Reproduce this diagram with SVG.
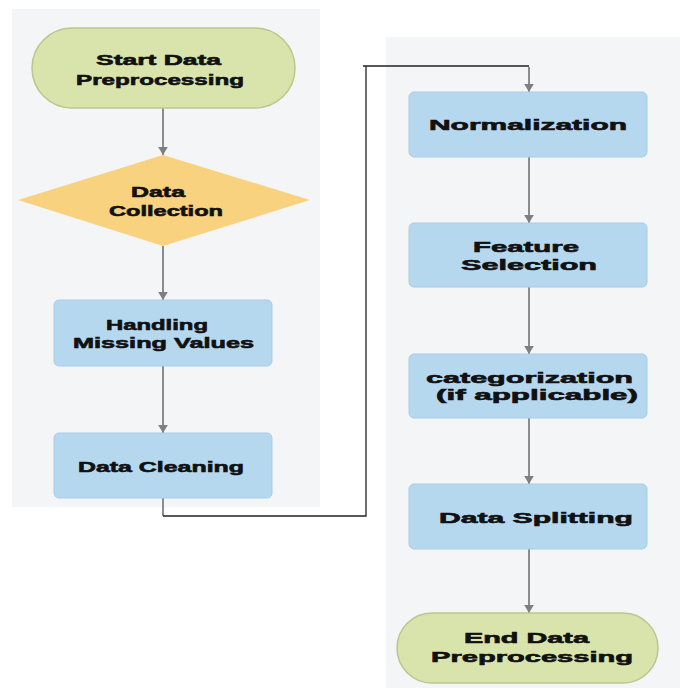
<svg xmlns="http://www.w3.org/2000/svg" width="680" height="688" viewBox="0 0 680 688">
<style>
.panel{fill:#f4f5f7}
.box{fill:#b5d8ef;stroke:#a9cde6;stroke-width:1}
.term{fill:#d9e4ad;stroke:#b9c78e;stroke-width:1.5}
.dec{fill:#f8d27e}
.lbl{font-family:"Liberation Sans",Arial,sans-serif;font-weight:bold;font-size:15px;fill:#111;stroke:#111;stroke-width:0.6}
.flow{stroke:#8c8c8c;stroke-width:2;fill:none}
.link{stroke:#222;stroke-width:1.3;fill:none}
</style>
<defs>
<marker id="ah" viewBox="0 0 10 12" refX="10" refY="6" markerWidth="8" markerHeight="12" markerUnits="userSpaceOnUse" orient="auto">
<path d="M0,0 L10,6 L0,12 Z" fill="#7f7f7f"/>
</marker>
</defs>
<rect class="panel" x="12" y="9" width="308" height="498"/>
<rect class="panel" x="386" y="37" width="294" height="651"/>
<g id="connectors">
<line class="flow" x1="163" y1="108" x2="163" y2="155" marker-end="url(#ah)"/>
<line class="flow" x1="163" y1="246" x2="163" y2="300" marker-end="url(#ah)"/>
<line class="flow" x1="163" y1="366" x2="163" y2="433" marker-end="url(#ah)"/>
<line class="flow" x1="163" y1="498" x2="163" y2="516"/>
<polyline class="link" points="163,516 366,516 366,66 363,66 529,66"/>
<line class="flow" x1="529" y1="67" x2="529" y2="92" marker-end="url(#ah)"/>
<line class="flow" x1="529" y1="157" x2="529" y2="223" marker-end="url(#ah)"/>
<line class="flow" x1="529" y1="287" x2="529" y2="354" marker-end="url(#ah)"/>
<line class="flow" x1="529" y1="418" x2="529" y2="484" marker-end="url(#ah)"/>
<line class="flow" x1="529" y1="549" x2="529" y2="613" marker-end="url(#ah)"/>
</g>
<g id="start">
<rect class="term" x="32" y="28" width="263" height="80" rx="40" ry="40"/>
<text class="lbl" x="96" y="65" textLength="125" lengthAdjust="spacingAndGlyphs">Start Data</text>
<text class="lbl" x="76" y="85" textLength="168" lengthAdjust="spacingAndGlyphs">Preprocessing</text>
</g>
<g id="collection">
<polygon class="dec" points="163,155 310,200 163,246 18,200"/>
<text class="lbl" x="131" y="197" textLength="54" lengthAdjust="spacingAndGlyphs">Data</text>
<text class="lbl" x="109" y="216" textLength="114" lengthAdjust="spacingAndGlyphs">Collection</text>
</g>
<g id="missing">
<rect class="box" x="54" y="300" width="218" height="66" rx="5"/>
<text class="lbl" x="106" y="330" textLength="102" lengthAdjust="spacingAndGlyphs">Handling</text>
<text class="lbl" x="73" y="348" textLength="181" lengthAdjust="spacingAndGlyphs">Missing Values</text>
</g>
<g id="cleaning">
<rect class="box" x="54" y="433" width="218" height="65" rx="5"/>
<text class="lbl" x="78" y="472" textLength="166" lengthAdjust="spacingAndGlyphs">Data Cleaning</text>
</g>
<g id="normalization">
<rect class="box" x="409" y="92" width="238" height="65" rx="5"/>
<text class="lbl" x="429" y="130" textLength="198" lengthAdjust="spacingAndGlyphs">Normalization</text>
</g>
<g id="feature">
<rect class="box" x="409" y="223" width="238" height="64" rx="5"/>
<text class="lbl" x="473" y="252" textLength="106" lengthAdjust="spacingAndGlyphs">Feature</text>
<text class="lbl" x="461" y="270" textLength="136" lengthAdjust="spacingAndGlyphs">Selection</text>
</g>
<g id="categorization">
<rect class="box" x="409" y="354" width="238" height="64" rx="5"/>
<text class="lbl" x="426" y="383" textLength="207" lengthAdjust="spacingAndGlyphs">categorization</text>
<text class="lbl" x="436" y="400" textLength="202" lengthAdjust="spacingAndGlyphs">(if applicable)</text>
</g>
<g id="splitting">
<rect class="box" x="409" y="484" width="238" height="65" rx="5"/>
<text class="lbl" x="439" y="523" textLength="194" lengthAdjust="spacingAndGlyphs">Data Splitting</text>
</g>
<g id="end">
<rect class="term" x="397" y="613" width="261" height="70" rx="35" ry="35"/>
<text class="lbl" x="464" y="643" textLength="125" lengthAdjust="spacingAndGlyphs">End Data</text>
<text class="lbl" x="431" y="662" textLength="202" lengthAdjust="spacingAndGlyphs">Preprocessing</text>
</g>
</svg>
